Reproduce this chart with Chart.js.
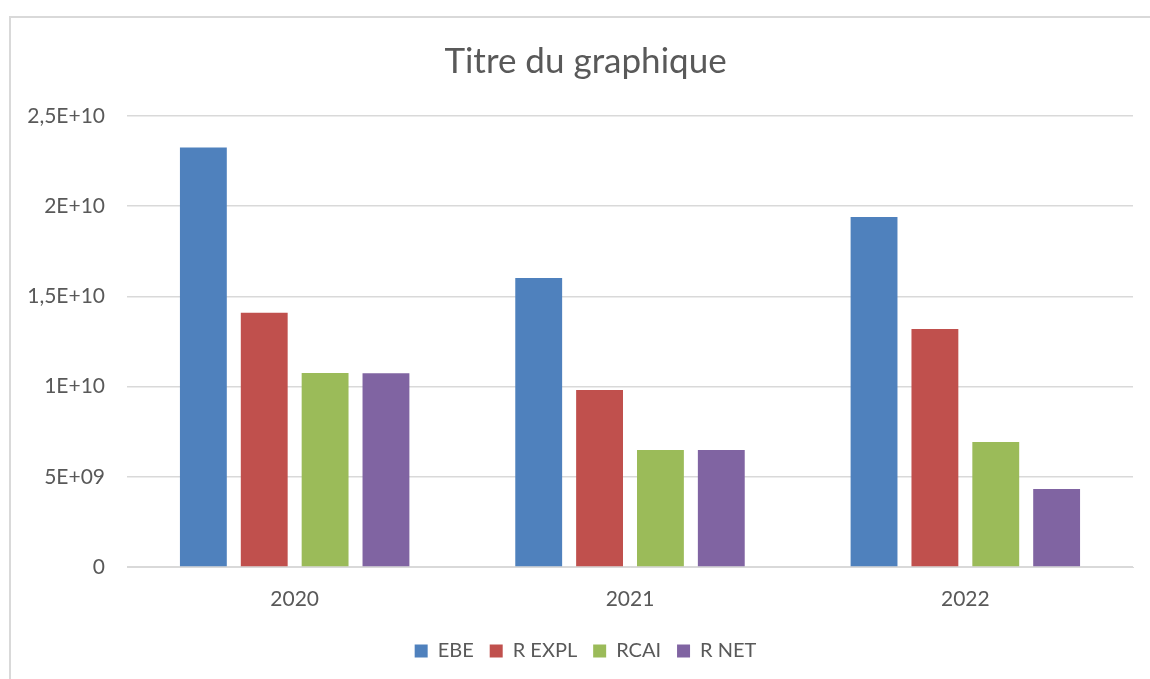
<!DOCTYPE html>
<html lang="fr">
<head>
    <meta charset="UTF-8">
    <title>Titre du graphique</title>
    <script src="https://cdn.jsdelivr.net/npm/chart.js"></script>
    <style>
        body { margin: 0; background: #fff; overflow: hidden; }
        #frame { position: absolute; left: 9px; top: 16px; width: 1200px; height: 700px; border: 2px solid #d9d9d9; }
        #wrap { position: absolute; left: 0; top: 0; width: 1150px; height: 679px; }
    </style>
</head>
<body>
    <div id="frame"></div>
    <div id="wrap"><canvas id="chart"></canvas></div>
    <script>
        const years = ['2020', '2021', '2022'];
        const ebe = [2.326e10, 1.602e10, 1.940e10];
        const rExpl = [1.410e10, 0.981e10, 1.319e10];
        const rcai = [1.075e10, 0.649e10, 0.693e10];
        const rNet = [1.074e10, 0.649e10, 0.432e10];
        const yTickLabels = ['0', '5E+09', '1E+10', '1,5E+10', '2E+10', '2,5E+10'];

        const font = 'Lato, Carlito, Calibri, sans-serif';
        const grey = '#595959';

        // title and legend are centred on the frame, not on the canvas
        const centerOnFrame = {
            id: 'centerOnFrame',
            afterLayout(chart) {
                chart.titleBlock.left += 38;
                chart.legend.left += 38;
            }
        };

        new Chart(document.getElementById('chart'), {
            type: 'bar',
            data: {
                labels: years,
                datasets: [
                    { label: 'EBE', data: ebe, backgroundColor: '#4f81bd' },
                    { label: 'R EXPL', data: rExpl, backgroundColor: '#c0504d' },
                    { label: 'RCAI', data: rcai, backgroundColor: '#9bbb59' },
                    { label: 'R NET', data: rNet, backgroundColor: '#8064a2' }
                ]
            },
            options: {
                responsive: true,
                maintainAspectRatio: false,
                animation: false,
                datasets: { bar: { categoryPercentage: 0.726, barPercentage: 0.77 } },
                layout: { padding: { left: 0, right: 17, top: 41, bottom: 8 } },
                plugins: {
                    title: {
                        display: true, text: 'Titre du graphique', color: grey,
                        font: { family: font, size: 35, weight: 'normal' },
                        padding: { top: 0, bottom: 33 }
                    },
                    legend: {
                        position: 'bottom',
                        labels: {
                            color: grey, boxWidth: 13, boxHeight: 13, padding: 16,
                            font: { family: font, size: 20 }
                        }
                    },
                    tooltip: { enabled: false }
                },
                scales: {
                    x: {
                        afterFit: axis => { axis.height = 58; },
                        grid: { display: false },
                        border: { display: true, color: '#d9d9d9', width: 1 },
                        ticks: { color: grey, padding: 12, font: { family: font, size: 21 } }
                    },
                    y: {
                        min: 0, max: 2.5e10,
                        afterFit: axis => { axis.width = 127; },
                        grid: { color: '#d9d9d9', drawTicks: false, lineWidth: 1.5 },
                        border: { display: false },
                        ticks: {
                            stepSize: 5e9, color: grey, padding: 22,
                            font: { family: font, size: 21 },
                            callback: (v, i) => yTickLabels[i]
                        }
                    }
                }
            },
            plugins: [centerOnFrame]
        });
    </script>
</body>
</html>
